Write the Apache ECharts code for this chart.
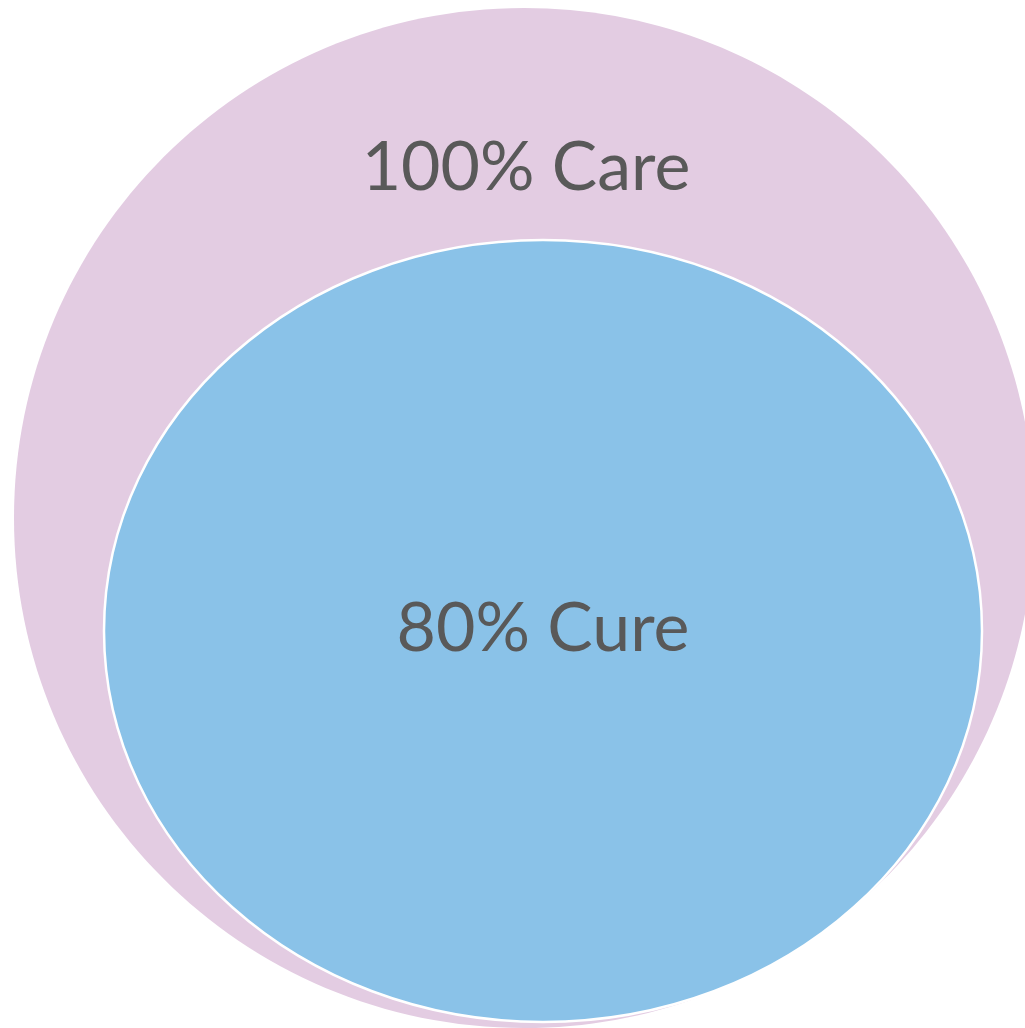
<!DOCTYPE html>
<html>
<head>
<meta charset="utf-8">
<style>html,body{margin:0;padding:0;background:#fff}#c{width:1025px;height:1028px}</style>
<script src="https://cdn.jsdelivr.net/npm/echarts@6/dist/echarts.min.js"></script>
</head>
<body>
<div id="c"></div>
<script>
// Sets (outer first), their shares and the label texts
var setNames = ['Care', 'Cure'];
var shares = [100, 80];
var labels = ['100% Care', '80% Cure'];
// Ellipse geometry in axis units (axis spans the plotting area 0..1025 x 0..1028)
var centerX = [524, 543];
var centerY = [518, 631];
var radiusX = [510, 439];
var radiusY = [510, 391];
var labelX = [526, 543];
var labelY = [168, 629];
var fills = ['#E3CCE2', '#8AC2E8'];

var data = setNames.map(function (n, i) {
  return { name: n, value: [centerX[i], centerY[i], radiusX[i], radiusY[i], labelX[i], labelY[i], shares[i]] };
});

var chart = echarts.init(document.getElementById('c'), null, { renderer: 'canvas' });
chart.setOption({
  animation: false,
  grid: { left: 0, right: 0, top: 0, bottom: 0 },
  xAxis: { type: 'value', min: 0, max: 1025, show: false },
  yAxis: { type: 'value', min: 0, max: 1028, inverse: true, show: false },
  series: [{
    type: 'custom',
    clip: false,
    data: data,
    renderItem: function (params, api) {
      var i = params.dataIndex;
      var c = api.coord([api.value(0), api.value(1)]);
      var s = api.size([api.value(2), api.value(3)]);
      var l = api.coord([api.value(4), api.value(5)]);
      return {
        type: 'group',
        children: [{
          type: 'ellipse',
          shape: { cx: c[0], cy: c[1], rx: s[0], ry: s[1] },
          style: { fill: fills[i], stroke: i === 0 ? null : '#ffffff', lineWidth: i === 0 ? 0 : 2.5 }
        }, {
          type: 'text',
          style: {
            text: labels[i], x: l[0], y: l[1],
            align: 'center', verticalAlign: 'middle',
            font: '68px Lato', fill: '#595959'
          }
        }]
      };
    }
  }]
});
</script>
</body>
</html>
